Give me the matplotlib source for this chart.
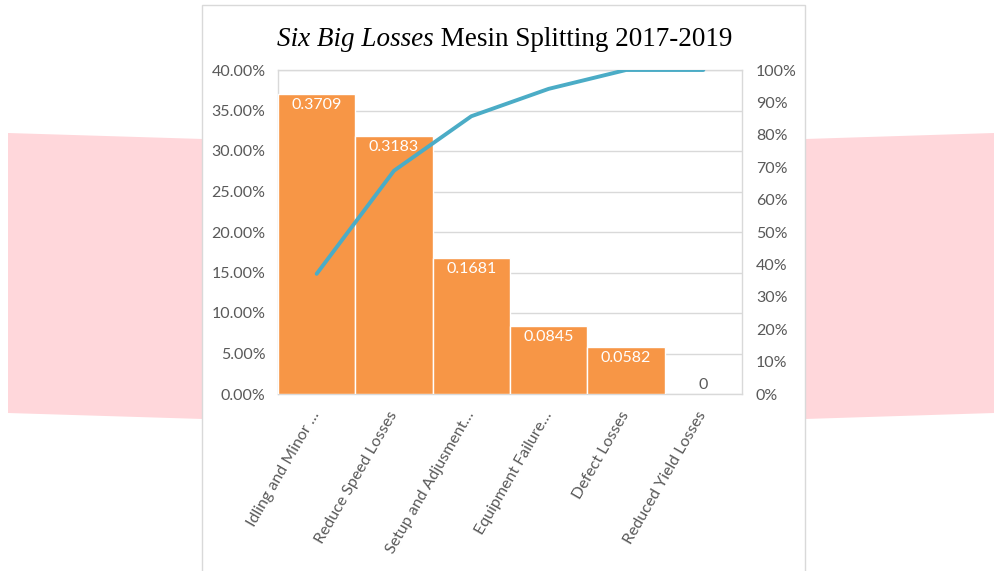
import numpy as np
import matplotlib
matplotlib.use('Agg')
import matplotlib.pyplot as plt
from matplotlib.patches import Polygon, Rectangle
from matplotlib.ticker import FuncFormatter

# ============================================================
# DATA
# ============================================================
kategori = ["Idling and Minor …", "Reduce Speed Losses", "Setup and Adjusment…",
            "Equipment Failure…", "Defect Losses", "Reduced Yield Losses"]
persentase = [0.3709, 0.3183, 0.1681, 0.0845, 0.0582, 0.0]
label_bar = ["0.3709", "0.3183", "0.1681", "0.0845", "0.0582", "0"]
kumulatif = np.cumsum(persentase)

W, H = 994, 571
BAR = '#F79646'
LINE = '#4BACC6'
GRID = '#D9D9D9'
TEKS = '#595959'
PINK = '#FFD7DB'
FS = 11.5

plt.rcParams['font.family'] = ['Lato', 'DejaVu Sans']

fig = plt.figure(figsize=(W / 100, H / 100), dpi=100)


def px(x, y):
    """pixel (dari kiri-atas) -> koordinat figure."""
    return (x / W, 1 - y / H)


# latar: pita pink kiri-kanan + panel putih
fig.patches.append(Polygon([px(8, 133), px(203, 139), px(203, 419), px(8, 413)],
                           closed=True, facecolor=PINK, edgecolor='none',
                           transform=fig.transFigure, zorder=0))
fig.patches.append(Polygon([px(805, 139), px(994, 133), px(994, 413), px(805, 419)],
                           closed=True, facecolor=PINK, edgecolor='none',
                           transform=fig.transFigure, zorder=0))
x0, y0 = px(202, 575)
x1, y1 = px(805, 5)
fig.patches.append(Rectangle((x0, y0), x1 - x0, y1 - y0, facecolor='white',
                             edgecolor=GRID, lw=1, transform=fig.transFigure, zorder=1))

# ============================================================
# GRAFIK
# ============================================================
l, b = px(278, 394)
r, t = px(742, 70)
ax = fig.add_axes([l, b, r - l, t - b])
ax.set_facecolor('none')
ax.set_zorder(2)

x = np.arange(len(kategori))
ax.bar(x, persentase, width=1.0, color=BAR, edgecolor='white', lw=1, zorder=3)
ax.set_xlim(-0.5, len(kategori) - 0.5)
ax.set_ylim(0, 0.4)
ax.set_yticks(np.arange(0, 0.401, 0.05))
ax.yaxis.set_major_formatter(FuncFormatter(lambda v, p: f"{v * 100:.2f}%"))
ax.grid(axis='y', color=GRID, lw=1, zorder=0)
ax.set_axisbelow(True)
for s in ax.spines.values():
    s.set_color(GRID)
    s.set_linewidth(1)
ax.tick_params(axis='both', length=0, colors=TEKS, labelsize=FS)
ax.tick_params(axis='y', pad=9)
ax.set_xticks(x)
ax.set_xticklabels(kategori, rotation=60, ha='right', va='center',
                   rotation_mode='anchor')
ax.tick_params(axis='x', pad=13)

for xi, v, lab in zip(x, persentase, label_bar):
    if v > 0.02:
        ax.text(xi, v - 0.005, lab, ha='center', va='top', color='white',
                fontsize=FS, zorder=4)
    else:
        ax.text(xi, v + 0.003, lab, ha='center', va='bottom', color=TEKS,
                fontsize=FS, zorder=4)

ax2 = ax.twinx()
ax2.plot(x, kumulatif, color=LINE, lw=2.8, solid_capstyle='round', zorder=5)
ax2.set_ylim(0, 1)
ax2.set_yticks(np.arange(0, 1.001, 0.1))
ax2.yaxis.set_major_formatter(FuncFormatter(lambda v, p: f"{v * 100:.0f}%"))
ax2.tick_params(axis='y', length=0, colors=TEKS, labelsize=FS, pad=10)
for s in ax2.spines.values():
    s.set_visible(False)

# judul: sebagian miring
judul1 = fig.text(px(277, 0)[0], px(0, 52)[1], "Six Big Losses", family='Liberation Serif',
                  style='italic', fontsize=19.5, va='bottom', ha='left', color='black')
ax.annotate(" Mesin Splitting 2017-2019", xy=(1, 0), xycoords=judul1,
            va='bottom', ha='left', family='Liberation Serif', fontsize=19.5,
            color='black', annotation_clip=False)

fig.savefig('out.png', dpi=100)
